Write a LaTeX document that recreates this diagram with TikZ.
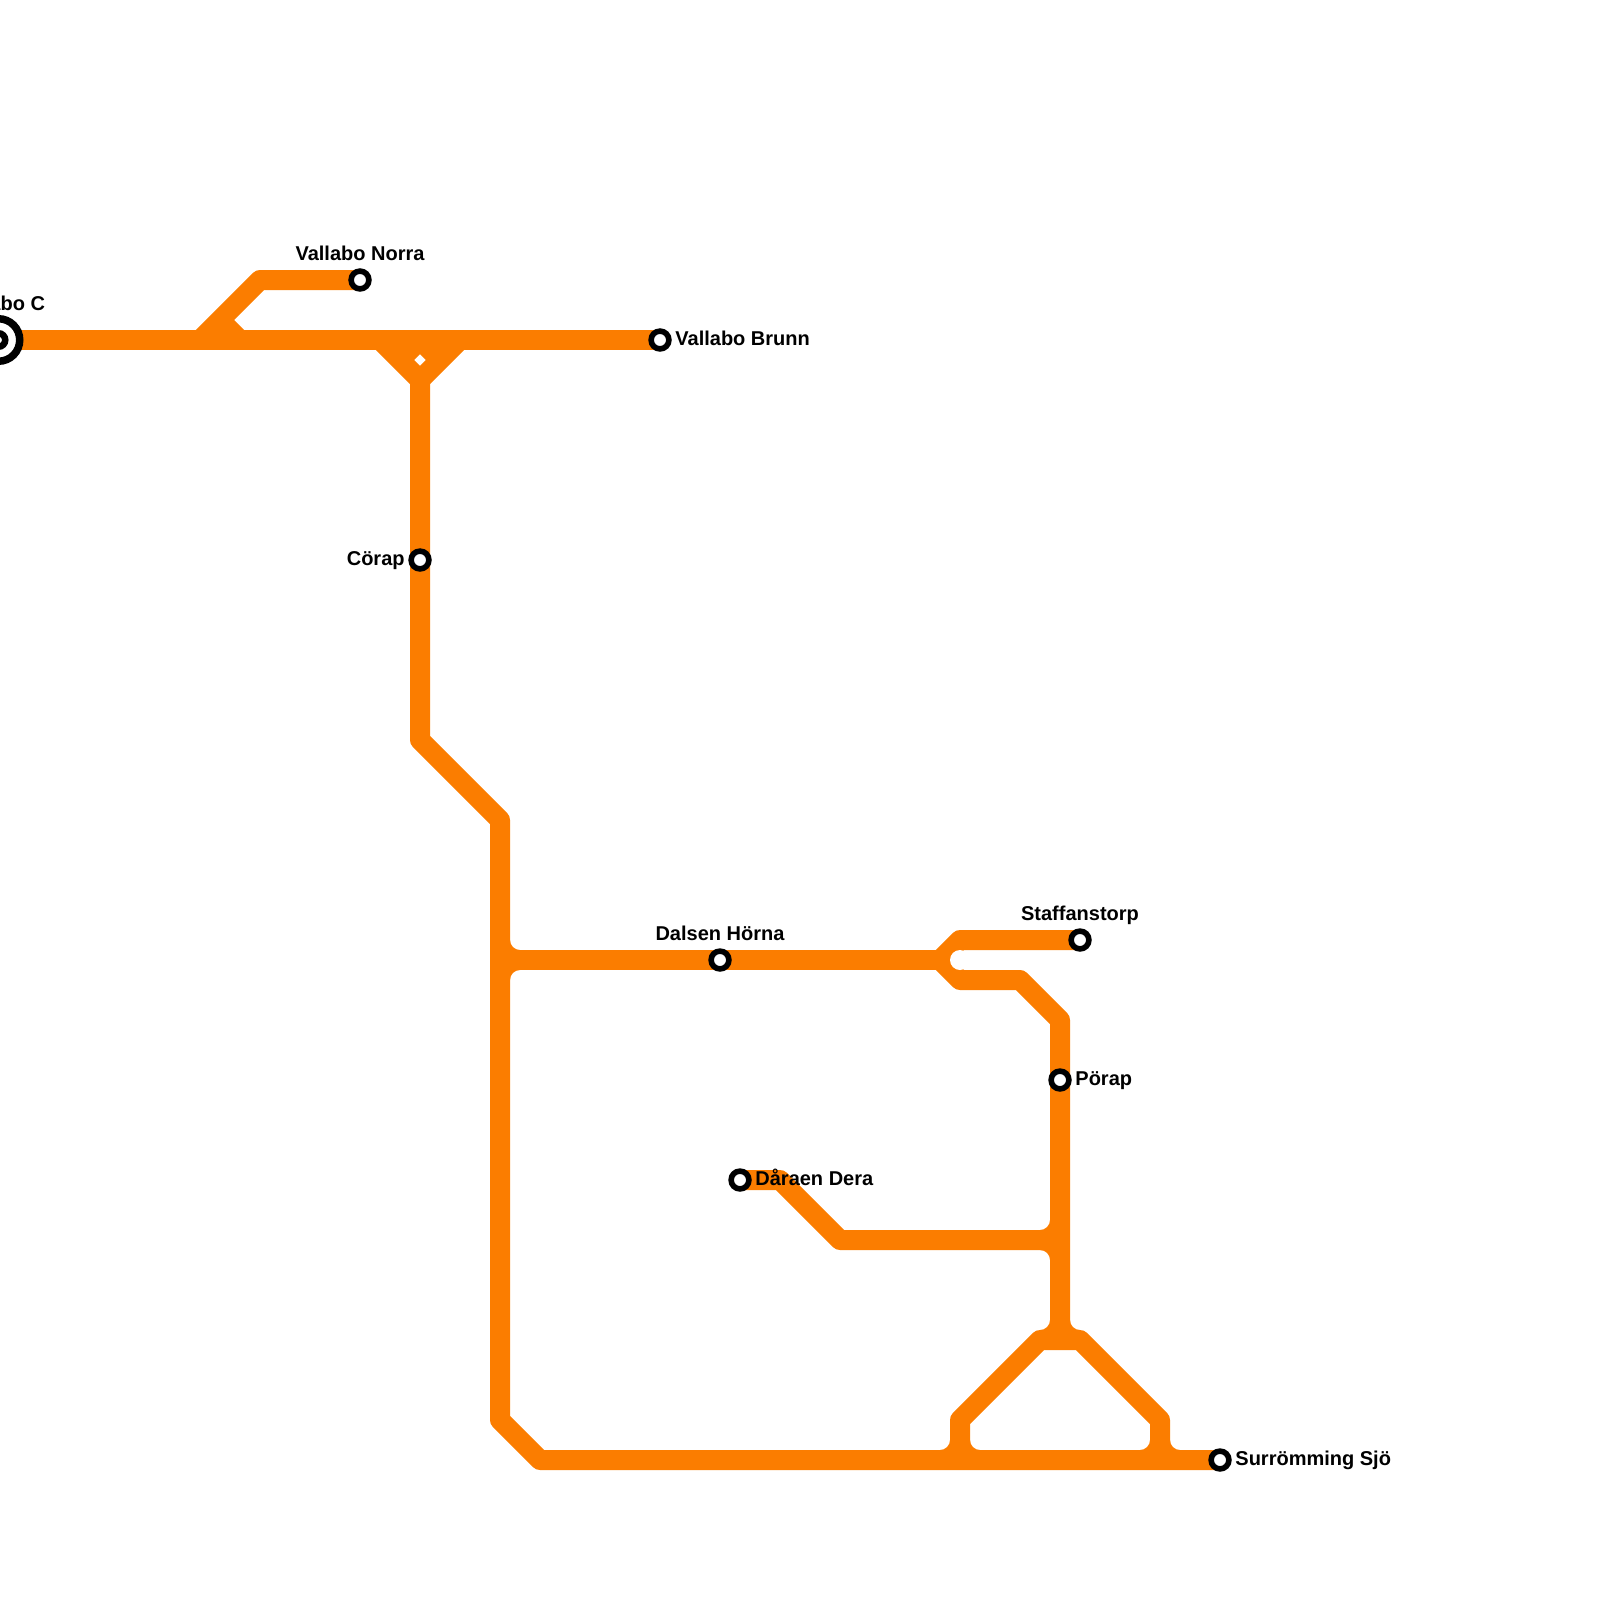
\documentclass[tikz,border=0pt]{standalone}
\usepackage{fontspec}
\setmainfont{Liberation Sans}
\usetikzlibrary{backgrounds,calc}

\definecolor{lineorange}{HTML}{FB7D00}

\begin{document}
\begin{tikzpicture}[x=0.5pt,y=-0.5pt]
  \tikzstyle{metro}=[draw=lineorange,line width=10pt,line join=round]
  \tikzstyle{station}=[circle,draw=black,fill=white,line width=2.8pt,
    minimum size=8.9pt,inner sep=0pt]
  \tikzstyle{lbl}=[inner sep=0pt,font=\fontsize{10}{12}\selectfont\bfseries]

  \useasboundingbox (0,0) rectangle (1600,1600);

  \node [station,line width=3.75pt,minimum size=21.25pt] (vallaboC) at (-1.5,340) {};
  \node [station,line width=3.25pt,minimum size=6.75pt] (vallaboCin) at (-1.5,340) {};
  \node [station] (norra) at (360,280) {};
  \node [station] (brunn) at (660,340) {};
  \node [station] (corap) at (420,560) {};
  \node [station] (dalsen) at (720,960) {};
  \node [station] (staffan) at (1080,940) {};
  \node [station] (porap) at (1060,1080) {};
  \node [station] (daraen) at (740,1180) {};
  \node [station] (surrom) at (1220,1460) {};

  \node [lbl,anchor=base] (vallaboCtxt) at (0,310) {Vallabo C};
  \node [lbl,anchor=base] (norratxt) at (360,260) {Vallabo Norra};
  \node [lbl,anchor=base west] (brunntxt) at (675,345) {Vallabo Brunn};
  \node [lbl,anchor=base east] (coraptxt) at (405,565) {Cörap};
  \node [lbl,anchor=base] (dalsentxt) at (720,940) {Dalsen Hörna};
  \node [lbl,anchor=base] (staffantxt) at (1080,920) {Staffanstorp};
  \node [lbl,anchor=base west] (poraptxt) at (1075,1085) {Pörap};
  \node [lbl,anchor=base west] (daraentxt) at (755,1185) {Dåraen Dera};
  \node [lbl,anchor=base west] (surromtxt) at (1235,1465) {Surrömming Sjö};

  \coordinate (n1) at (260,280);
  \coordinate (n2) at (200,340);
  \coordinate (n3) at (220,320);
  \coordinate (n4) at (240,340);
  \coordinate (y1) at (380,340);
  \coordinate (y2) at (460,340);
  \coordinate (y3) at (420,380);
  \coordinate (y4) at (420,340);
  \coordinate (y5) at (400,360);
  \coordinate (y6) at (440,360);
  \coordinate (s1) at (420,740);
  \coordinate (s2) at (500,820);
  \coordinate (s3) at (500,1420);
  \coordinate (s4) at (540,1460);
  \coordinate (d1) at (500,960);
  \coordinate (f1) at (940,960);
  \coordinate (f2) at (960,940);
  \coordinate (f3) at (960,980);
  \coordinate (f4) at (1020,980);
  \coordinate (f5) at (1060,1020);
  \coordinate (fhole) at (960,960);
  \coordinate (t1) at (1060,1340);
  \coordinate (t2) at (1040,1340);
  \coordinate (t3) at (1080,1340);
  \coordinate (t4) at (960,1420);
  \coordinate (t5) at (1160,1420);
  \coordinate (t6) at (960,1460);
  \coordinate (t7) at (1160,1460);
  \coordinate (r1) at (780,1180);
  \coordinate (r2) at (840,1240);
  \coordinate (r3) at (1060,1240);

  \begin{scope}[on background layer]
    \draw [metro] (vallaboC.center) -- (brunn.center);
    \draw [metro] (norra.center) -- (n1) -- (n2);
    \draw [metro] (n3) -- (n4);
    \draw [metro] (y1) -- (y3) -- (y2);
    \draw [metro] (y5) -- (y4) -- (y6);
    \draw [metro] (y3) -- (corap.center) -- (s1) -- (s2) -- (s3) -- (s4) -- (surrom.center);
    \draw [metro] (d1) -- (dalsen.center) -- (f1);
    \draw [metro] (staffan.center) -- (f2) -- (f1) -- (f3) -- (f4) -- (f5) -- (porap.center) -- (t1);
    \draw [metro] (daraen.center) -- (r1) -- (r2) -- (r3);
    \draw [metro] (t6) -- (t4) -- (t2) -- (t3) -- (t5) -- (t7);
    \fill [white] (fhole) circle [radius=10];
    \foreach \ax/\ay/\bx/\by in {510/940/520/950, 510/980/520/970,
      1050/1220/1040/1230, 1050/1260/1040/1250,
      1050/1320/1040/1330, 1070/1320/1080/1330,
      950/1440/940/1450, 970/1440/980/1450,
      1150/1440/1140/1450, 1170/1440/1180/1450}
      \fill [lineorange] (\ax,\by) -- (\ax,\ay)
        .. controls ($(\ax,\ay)!0.55!(\ax,\by)$) and ($(\bx,\by)!0.55!(\ax,\by)$) .. (\bx,\by) -- cycle;
  \end{scope}
\end{tikzpicture}
\end{document}
